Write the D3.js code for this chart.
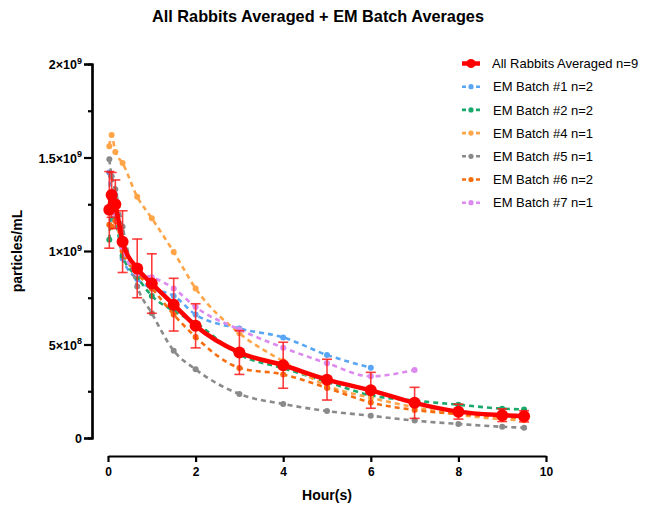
<!DOCTYPE html>
<html>
<head>
<meta charset="utf-8">
<script src="https://cdn.jsdelivr.net/npm/d3@7"></script>
<style>
  html, body { margin: 0; padding: 0; background: #fff; }
  svg { display: block; font-family: "Liberation Sans", Arial, sans-serif; }
</style>
</head>
<body>
<svg id="chart" width="649" height="506"></svg>
<script>
// Sampling times (hours)
const hours = [0.03, 0.083, 0.167, 0.333, 0.667, 1, 1.5, 2, 3, 4, 5, 6, 7, 8, 9, 9.5];

// All rabbits averaged (particles/mL, x1e9) with standard deviation
const avgAll = [1.22, 1.30, 1.25, 1.05, 0.907, 0.826, 0.713, 0.60, 0.457, 0.389, 0.312, 0.255, 0.188, 0.141, 0.122, 0.116];
const sdAll  = [0.205, 0.12, 0.13, 0.165, 0.157, 0.159, 0.141, 0.118, 0.117, 0.123, 0.109, 0.096, 0.083, 0.04, 0.034, 0.03];

// EM batch averages (x1e9)
const batch1 = [1.42, 1.17, 1.30, 0.96, 0.85, 0.80, 0.76, 0.66, 0.585, 0.538, 0.444, 0.376];
const batch2 = [1.06, 1.24, 1.17, 0.975, 0.86, 0.76, 0.68, 0.615, 0.445, 0.373, 0.30, 0.228, 0.20, 0.178, 0.157, 0.153];
const batch4 = [1.56, 1.62, 1.53, 1.47, 1.29, 1.175, 0.995, 0.80, 0.56, 0.41, 0.28, 0.215, 0.165, 0.125, 0.10, 0.095];
const batch5 = [1.49, 1.40, 1.33, 1.13, 0.81, 0.667, 0.467, 0.367, 0.235, 0.182, 0.144, 0.119, 0.093, 0.075, 0.06, 0.055];
const batch6 = [1.14, 1.13, 1.16, 1.00, 0.88, 0.80, 0.66, 0.54, 0.375, 0.34, 0.268, 0.19, 0.15, 0.128, 0.114, 0.105];
const batch7 = [1.22, 1.27, 1.20, 1.02, 0.88, 0.86, 0.80, 0.70, 0.58, 0.483, 0.40, 0.33, 0.364];

const batchNames  = ["EM Batch #1 n=2", "EM Batch #2 n=2", "EM Batch #4 n=1", "EM Batch #5 n=1", "EM Batch #6 n=2", "EM Batch #7 n=1"];
const batchColors = ["#58a6f4", "#1aa96c", "#ffa548", "#8a8a8a", "#f66d10", "#dc8af0"];
const batchValues = [batch1, batch2, batch4, batch5, batch6, batch7];
const avgName = "All Rabbits Averaged n=9";

// Axis ticks
const xTicks = [0, 2, 4, 6, 8, 10];
const yMajor = [0, 5e8, 1e9, 1.5e9, 2e9];
const yMinor = [2.5e8, 7.5e8, 1.25e9, 1.75e9];
const yMantissa = ["0", "5", "1", "1.5", "2"];
const yExponent = [null, "8", "9", "9", "9"];

const SCALE = 1e9;
const svg = d3.select("#chart");

const x = d3.scaleLinear().domain([0, 10]).range([108, 546]);
const y = d3.scaleLinear().domain([0, 2e9]).range([438, 64]);

// Title
svg.append("text")
  .attr("x", 318).attr("y", 22)
  .attr("text-anchor", "middle")
  .attr("font-weight", "bold").attr("font-size", 16.3)
  .text("All Rabbits Averaged + EM Batch Averages");

// Y axis
const yAxisX = 92;
const yAx = svg.append("g").attr("transform", `translate(${yAxisX},0)`);
yAx.call(d3.axisLeft(y).tickValues(yMajor).tickSize(8).tickFormat(""));
yAx.append("g").call(d3.axisLeft(y).tickValues(yMinor).tickSize(4).tickFormat(""));
yAx.selectAll("path.domain").attr("stroke", "#000").attr("stroke-width", 2.2);
yAx.selectAll(".tick line").attr("stroke", "#000").attr("stroke-width", 2.2);

const yLab = yAx.selectAll("text.ylab").data(yMajor).join("text")
  .attr("class", "ylab")
  .attr("x", -10)
  .attr("y", d => y(d) + 5)
  .attr("text-anchor", "end")
  .attr("fill", "#000")
  .attr("font-family", "Liberation Sans, Arial, sans-serif")
  .attr("font-weight", "bold").attr("font-size", 12.5);
yLab.each(function(d, i) {
  const t = d3.select(this);
  if (yExponent[i] === null) {
    t.text(yMantissa[i]);
  } else {
    t.append("tspan").text(yMantissa[i] + "×10");
    t.append("tspan").attr("dy", -5.5).attr("font-size", 9).text(yExponent[i]);
  }
});

// X axis
const xAxY = 456;
const xAx = svg.append("g").attr("transform", `translate(0,${xAxY})`)
  .call(d3.axisBottom(x).tickValues(xTicks).tickSize(6).tickSizeOuter(0).tickFormat(d3.format("d")));
xAx.selectAll("path.domain").attr("stroke", "#000").attr("stroke-width", 2.2);
xAx.selectAll(".tick line").attr("stroke", "#000").attr("stroke-width", 2.2);
xAx.selectAll(".tick text")
  .attr("font-family", "Liberation Sans, Arial, sans-serif")
  .attr("font-weight", "bold").attr("font-size", 12).attr("fill", "#000").attr("dy", "0.95em");

// Axis titles
svg.append("text")
  .attr("x", 327).attr("y", 500)
  .attr("text-anchor", "middle")
  .attr("font-weight", "bold").attr("font-size", 14)
  .text("Hour(s)");
svg.append("text")
  .attr("transform", "translate(22,251) rotate(-90)")
  .attr("text-anchor", "middle")
  .attr("font-weight", "bold").attr("font-size", 14)
  .text("particles/mL");

// Batch curves (dashed, with point markers)
const plot = svg.append("g");
const line = d3.line().curve(d3.curveMonotoneX).x(d => x(d[0])).y(d => y(d[1] * SCALE));

batchValues.forEach((vals, i) => {
  const pts = vals.map((v, j) => [hours[j], v]);
  const g = plot.append("g");
  g.append("path")
    .datum(pts)
    .attr("d", line)
    .attr("fill", "none")
    .attr("stroke", batchColors[i])
    .attr("stroke-width", 2.6)
    .attr("stroke-dasharray", "5,4");
  g.selectAll("circle").data(pts).join("circle")
    .attr("cx", d => x(d[0]))
    .attr("cy", d => y(d[1] * SCALE))
    .attr("r", 3)
    .attr("fill", batchColors[i]);
});

// Averaged series: error bars, line, markers
const avgPts = avgAll.map((v, j) => ({ t: hours[j], v: v, sd: sdAll[j] }));
const eb = plot.append("g").attr("stroke", "#ff1a1a").attr("stroke-width", 1.6).attr("stroke-opacity", 0.85);
avgPts.forEach(p => {
  const cx = x(p.t), y1 = y((p.v + p.sd) * SCALE), y2 = y((p.v - p.sd) * SCALE);
  eb.append("line").attr("x1", cx).attr("x2", cx).attr("y1", y1).attr("y2", y2);
  eb.append("line").attr("x1", cx - 5).attr("x2", cx + 5).attr("y1", y1).attr("y2", y1);
  eb.append("line").attr("x1", cx - 5).attr("x2", cx + 5).attr("y1", y2).attr("y2", y2);
});
plot.append("path")
  .datum(avgPts.map(p => [p.t, p.v]))
  .attr("d", line)
  .attr("fill", "none")
  .attr("stroke", "#ff0000")
  .attr("stroke-width", 4.5)
  .attr("stroke-linejoin", "round");
plot.selectAll("circle.avg").data(avgPts).join("circle")
  .attr("class", "avg")
  .attr("cx", d => x(d.t))
  .attr("cy", d => y(d.v * SCALE))
  .attr("r", 6)
  .attr("fill", "#ff0000");

// Legend
const legX = 462, legY0 = 63.5, legStep = 23.2;
const leg = svg.append("g");
const items = [{ name: avgName, color: "#ff0000", main: true }]
  .concat(batchNames.map((n, i) => ({ name: n, color: batchColors[i], main: false })));
items.forEach((it, i) => {
  const gy = legY0 + i * legStep;
  const g = leg.append("g").attr("transform", `translate(${legX},${gy})`);
  if (it.main) {
    g.append("line").attr("x1", 0).attr("x2", 18).attr("y1", 0).attr("y2", 0)
      .attr("stroke", it.color).attr("stroke-width", 4.5);
    g.append("circle").attr("cx", 9).attr("cy", 0).attr("r", 4.5).attr("fill", it.color);
  } else {
    g.append("line").attr("x1", 0).attr("x2", 18).attr("y1", 0).attr("y2", 0)
      .attr("stroke", it.color).attr("stroke-width", 2.6).attr("stroke-dasharray", "4,3");
    g.append("circle").attr("cx", 9).attr("cy", 0).attr("r", 2.6).attr("fill", it.color);
  }
  g.append("text").attr("x", it.main ? 30 : 31).attr("y", 4.6)
    .attr("font-size", 13).attr("fill", "#000")
    .text(it.name);
});
</script>
</body>
</html>
